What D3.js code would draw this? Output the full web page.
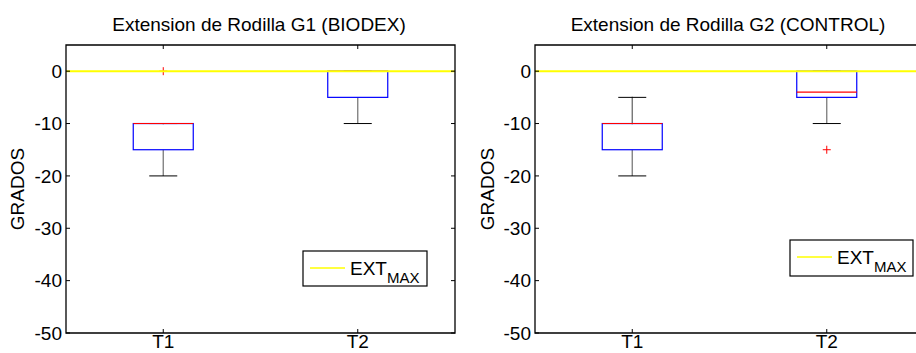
<!DOCTYPE html>
<html><head><meta charset="utf-8">
<script src="https://cdn.jsdelivr.net/npm/d3@7"></script>
<style>
html,body{margin:0;padding:0;background:#fff;}
svg{display:block;}
text{font-family:"Liberation Sans",Arial,Helvetica,sans-serif;fill:#000;}
</style></head>
<body><svg id="chart" width="916" height="353"></svg>
<script>
// ---- data ----
const categories = ["T1", "T2"];
const yTicks = [0, -10, -20, -30, -40, -50];
const yDomain = [-50, 5];
const extMax = 0;
const titles = ["Extension de Rodilla G1 (BIODEX)", "Extension de Rodilla G2 (CONTROL)"];
const yLabel = "GRADOS";

const g1Lower   = [-20, -10];
const g1Q1      = [-15, -5];
const g1Median  = [-10, 0];
const g1Q3      = [-10, 0];
const g1Upper   = [-10, 0];
const g1Outliers = [[0], []];

const g2Lower   = [-20, -10];
const g2Q1      = [-15, -5];
const g2Median  = [-10, -4];
const g2Q3      = [-10, 0];
const g2Upper   = [-5, 0];
const g2Outliers = [[], [-15]];

const groups = [
  {lower: g1Lower, q1: g1Q1, median: g1Median, q3: g1Q3, upper: g1Upper, outliers: g1Outliers},
  {lower: g2Lower, q1: g2Q1, median: g2Median, q3: g2Q3, upper: g2Upper, outliers: g2Outliers}
];

// ---- layout ----
const svg = d3.select("#chart");
const panels = [
  {x0: 66, x1: 455, legend: {x: 303, y: 251, w: 124, h: 35}, ylabX: 24},
  {x0: 535, x1: 924, legend: {x: 790, y: 240, w: 123, h: 36}, ylabX: 494}
];
const plotTop = 45, plotBottom = 333;
const FS = 19;

panels.forEach((p, i) => {
  const d = groups[i];
  const g = svg.append("g");
  const x = d3.scalePoint().domain(categories).range([p.x0, p.x1]).padding(0.5);
  const y = d3.scaleLinear().domain(yDomain).range([plotBottom, plotTop]);
  const bw = 30, cw = 14, tk = 4;

  categories.forEach((c, k) => {
    const cx = x(c);
    g.append("line").attr("x1", cx).attr("x2", cx).attr("y1", y(d.q3[k])).attr("y2", y(d.upper[k]))
      .attr("stroke", "#6a6a6a").attr("stroke-width", 1.3).attr("stroke-linecap", "square");
    g.append("line").attr("x1", cx).attr("x2", cx).attr("y1", y(d.q1[k])).attr("y2", y(d.lower[k]))
      .attr("stroke", "#7a7a7a").attr("stroke-width", 1.3);
    [d.upper[k], d.lower[k]].forEach(v => {
      g.append("line").attr("x1", cx - cw).attr("x2", cx + cw).attr("y1", y(v)).attr("y2", y(v))
        .attr("stroke", "#000").attr("stroke-width", 1);
    });
    g.append("rect").attr("x", cx - bw).attr("y", y(d.q3[k])).attr("width", 2 * bw)
      .attr("height", y(d.q1[k]) - y(d.q3[k])).attr("fill", "none").attr("stroke", "#0000ff").attr("stroke-width", 1.2);
    g.append("line").attr("x1", cx - bw).attr("x2", cx + bw).attr("y1", y(d.median[k])).attr("y2", y(d.median[k]))
      .attr("stroke", "#ff0000").attr("stroke-width", 1.1);
    d.outliers[k].forEach(v => {
      g.append("path").attr("d", `M${cx - 4},${y(v)}h8M${cx},${y(v) - 4}v8`)
        .attr("stroke", "#ff0000").attr("stroke-width", 1).attr("fill", "none");
    });
  });

  g.append("line").attr("x1", p.x0).attr("x2", p.x1).attr("y1", y(extMax)).attr("y2", y(extMax))
    .attr("stroke", "#ffff00").attr("stroke-width", 2);

  const ax = g.append("g").attr("stroke", "#000").attr("fill", "none");
  ax.append("path").attr("d", `M${p.x0},${plotTop}V${plotBottom}H${p.x1}V${plotTop}Z`).attr("stroke-width", 1.3);
  yTicks.forEach(v => {
    ax.append("line").attr("x1", p.x0).attr("x2", p.x0 + tk).attr("y1", y(v)).attr("y2", y(v));
    ax.append("line").attr("x1", p.x1).attr("x2", p.x1 - tk).attr("y1", y(v)).attr("y2", y(v));
  });
  categories.forEach(c => {
    ax.append("line").attr("x1", x(c)).attr("x2", x(c)).attr("y1", plotBottom).attr("y2", plotBottom - tk);
    ax.append("line").attr("x1", x(c)).attr("x2", x(c)).attr("y1", plotTop).attr("y2", plotTop + tk);
  });

  yTicks.forEach(v => {
    g.append("text").attr("x", p.x0 - 4).attr("y", y(v)).attr("dy", "0.36em")
      .attr("text-anchor", "end").attr("font-size", FS).text(String(v));
  });
  categories.forEach(c => {
    g.append("text").attr("x", x(c)).attr("y", 348).attr("text-anchor", "middle")
      .attr("font-size", FS).text(c);
  });

  g.append("text").attr("x", (p.x0 + p.x1) / 2 - 1.5).attr("y", 31).attr("text-anchor", "middle")
    .attr("font-size", FS).text(titles[i]);

  g.append("text").attr("transform", `translate(${p.ylabX},${(plotTop + plotBottom) / 2}) rotate(-90)`)
    .attr("text-anchor", "middle").attr("font-size", FS).text(yLabel);

  const L = p.legend;
  const lg = g.append("g");
  lg.append("rect").attr("x", L.x).attr("y", L.y).attr("width", L.w).attr("height", L.h)
    .attr("fill", "#fff").attr("stroke", "#000").attr("stroke-width", 1.2);
  const ly = L.y + 17;
  lg.append("line").attr("x1", L.x + 7).attr("x2", L.x + 42).attr("y1", ly).attr("y2", ly)
    .attr("stroke", "#ffff00").attr("stroke-width", 1.5);
  const t = lg.append("text").attr("x", L.x + 47).attr("y", ly + 7).attr("font-size", FS);
  t.append("tspan").text("EXT");
  t.append("tspan").attr("dy", 8).attr("font-size", 15).text("MAX");
});
</script></body></html>
